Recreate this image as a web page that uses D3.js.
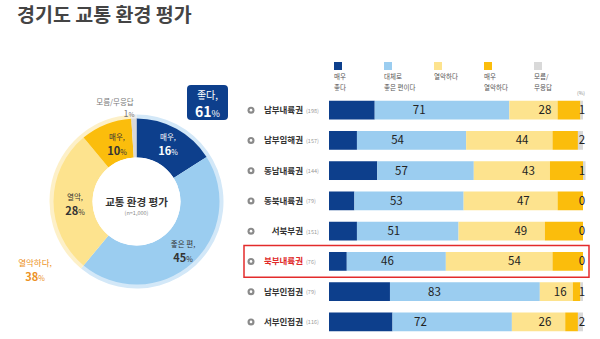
<!DOCTYPE html>
<html><head><meta charset="utf-8">
<script src="https://cdn.jsdelivr.net/npm/d3@7"></script>
<style>
html,body{margin:0;padding:0;background:#fff;}
svg{display:block;font-family:"Noto Sans CJK KR","Noto Sans",sans-serif;}
</style></head>
<body>
<svg id="c" width="600" height="339"></svg>
<script>
// ---- data ----
const title = "경기도 교통 환경 평가";
const pieLabels = ["매우 좋다", "좋은 편", "열악", "매우 열악", "모름/무응답"];
const pieValues = [16, 45, 28, 10, 1];
const pieGroupValues = [61, 38, 1];

const regions = ["남부내륙권","남부임해권","동남내륙권","동북내륙권","서북부권","북부내륙권","남부인접권","서부인접권"];
const counts = [198, 157, 144, 79, 151, 76, 79, 116];
const veryGood = [18, 11, 19, 10, 11, 7, 24, 25];
const good     = [53, 43, 38, 43, 40, 39, 59, 47];
const bad      = [19, 34, 30, 37, 34, 42, 13, 21];
const veryBad  = [9, 10, 13, 10, 15, 12, 3, 5];
const unknown  = [1, 2, 1, 0, 0, 0, 1, 2];
const goodTotal = [71, 54, 57, 53, 51, 46, 83, 72];
const badTotal  = [28, 44, 43, 47, 49, 54, 16, 26];
const legendLabels = [["매우","좋다"],["대체로","좋은 편이다"],["열악하다"],["매우","열악하다"],["모름/","무응답"]];
const highlight = "북부내륙권";

const colors = ["#0d3f8c", "#9bcdf0", "#fde38e", "#fbbd0c", "#d9d9d9"];
const bandColors = ["#d3e8f8", "#fdf0c8", "#ececec"];

const svg = d3.select("#c");

// title
svg.append("text").attr("x", 17).attr("y", 22).attr("font-size", 19.5).attr("font-weight", 700)
  .attr("fill", "#444").text(title);

// ---- donut ----
const cx = 136.5, cy = 201.5;
const g = svg.append("g").attr("transform", `translate(${cx},${cy})`);
const pie = d3.pie().sort(null).value(d => d);
const bandArc = d3.arc().innerRadius(80).outerRadius(87);
g.selectAll("path.band").data(pie(pieGroupValues)).join("path").attr("class","band")
  .attr("d", bandArc).attr("fill", (d,i) => bandColors[i]);
const arc = d3.arc().innerRadius(44).outerRadius(83);
g.selectAll("path.seg").data(pie(pieValues)).join("path").attr("class","seg")
  .attr("d", arc).attr("fill", (d,i) => colors[i]);
g.append("circle").attr("r", 44).attr("fill", "#fff");

function pctLabel(x, y, line1, num, color, size, nameSize, gap) {
  const t = svg.append("text").attr("text-anchor", "middle").attr("fill", color);
  if (line1) t.append("tspan").attr("x", x).attr("y", y).attr("font-size", nameSize || 7.5).text(line1);
  const t2 = t.append("tspan").attr("x", x).attr("y", y + size + (gap || 4));
  t2.append("tspan").attr("font-size", size).attr("font-weight", 700).text(num);
  t2.append("tspan").attr("font-size", size * 0.65).text("%");
}
pctLabel(168, 140, "매우,", pieValues[0], "#fff", 11);
pctLabel(117, 140, "매우,", pieValues[3], "#333", 11);
pctLabel(75, 200, "열악,", pieValues[2], "#333", 11);
pctLabel(183, 247, "좋은 편,", pieValues[1], "#333", 11);

// 모름/무응답
svg.append("text").attr("x", 115).attr("y", 105).attr("text-anchor", "middle").attr("font-size", 7.5)
  .attr("fill", "#777").text("모름/무응답");
const t1 = svg.append("text").attr("x", 129).attr("y", 117).attr("text-anchor", "middle").attr("fill", "#777");
t1.append("tspan").attr("font-size", 9).text(pieValues[4]);
t1.append("tspan").attr("font-size", 6.5).text("%");

// 좋다 box
svg.append("rect").attr("x", 187).attr("y", 85).attr("width", 41).attr("height", 35).attr("rx", 4)
  .attr("fill", "#0d3f8c");
pctLabel(207.5, 99, "좋다,", pieGroupValues[0], "#fff", 14, 10, 4);

// 열악하다
pctLabel(35, 266, "열악하다,", pieGroupValues[1], "#ec9124", 11, 8.5, 4);

// center
svg.append("text").attr("x", cx).attr("y", 206).attr("text-anchor", "middle").attr("font-size", 10.5)
  .attr("font-weight", 700).attr("fill", "#333").text("교통 환경 평가");
svg.append("text").attr("x", cx).attr("y", 215).attr("text-anchor", "middle").attr("font-size", 5.5)
  .attr("fill", "#888").text("(n=1,000)");

// ---- bars ----
const x = d3.scaleLinear().domain([0, 100]).range([329, 583]);
const y = d3.scaleBand().domain(regions).range([95, 337]).paddingInner(0.38).paddingOuter(0.19);
const series = [veryGood, good, bad, veryBad, unknown];

regions.forEach((r, i) => {
  let acc = 0;
  const rowG = svg.append("g");
  series.forEach((s, k) => {
    const v = s[i];
    if (v > 0) {
      rowG.append("rect").attr("x", x(acc)).attr("y", y(r)).attr("width", x(acc + v) - x(acc))
        .attr("height", y.bandwidth()).attr("fill", colors[k]);
    }
    acc += v;
  });
  const cyRow = y(r) + y.bandwidth() / 2;
  const gt = veryGood[i] + good[i];
  rowG.append("text").attr("x", (x(0) + x(gt)) / 2).attr("y", cyRow + 4).attr("text-anchor", "middle")
    .attr("font-size", 11.5).attr("fill", "#222").text(goodTotal[i]);
  rowG.append("text").attr("x", (x(gt) + x(gt + bad[i] + veryBad[i])) / 2).attr("y", cyRow + 4).attr("text-anchor", "middle")
    .attr("font-size", 11.5).attr("fill", "#222").text(badTotal[i]);
  rowG.append("text").attr("x", x(100) - 1).attr("y", cyRow + 4).attr("text-anchor", "middle")
    .attr("font-size", 11.5).attr("fill", "#222").text(unknown[i]);
  // bullet
  rowG.append("circle").attr("cx", 251).attr("cy", cyRow).attr("r", 3.5).attr("fill", "#8a8a8a");
  rowG.append("circle").attr("cx", 251).attr("cy", cyRow).attr("r", 1.3).attr("fill", "#fff");
  const isHi = r === highlight;
  rowG.append("text").attr("x", 303).attr("y", cyRow + 3).attr("text-anchor", "end").attr("font-size", 8.5)
    .attr("font-weight", 700).attr("fill", isHi ? "#e02a2a" : "#333").text(r);
  rowG.append("text").attr("x", 306).attr("y", cyRow + 2.5).attr("font-size", 5.5)
    .attr("fill", "#999").text(`(${counts[i]})`);
  if (isHi) {
    svg.append("rect").attr("x", 244).attr("y", y(r) - 6.5).attr("width", 345).attr("height", y.bandwidth() + 13)
      .attr("fill", "none").attr("stroke", "#e32b2b").attr("stroke-width", 1.5);
  }
});

// legend
legendLabels.forEach((lines, k) => {
  const lx = 334 + k * 50;
  svg.append("rect").attr("x", lx).attr("y", 62).attr("width", 8).attr("height", 8).attr("fill", colors[k]);
  lines.forEach((ln, j) => {
    svg.append("text").attr("x", lx).attr("y", 79 + j * 11).attr("font-size", 6.5).attr("fill", "#555").text(ln);
  });
});
svg.append("text").attr("x", 577).attr("y", 95).attr("font-size", 5).attr("fill", "#888").text("(%)");
</script>
</body></html>
